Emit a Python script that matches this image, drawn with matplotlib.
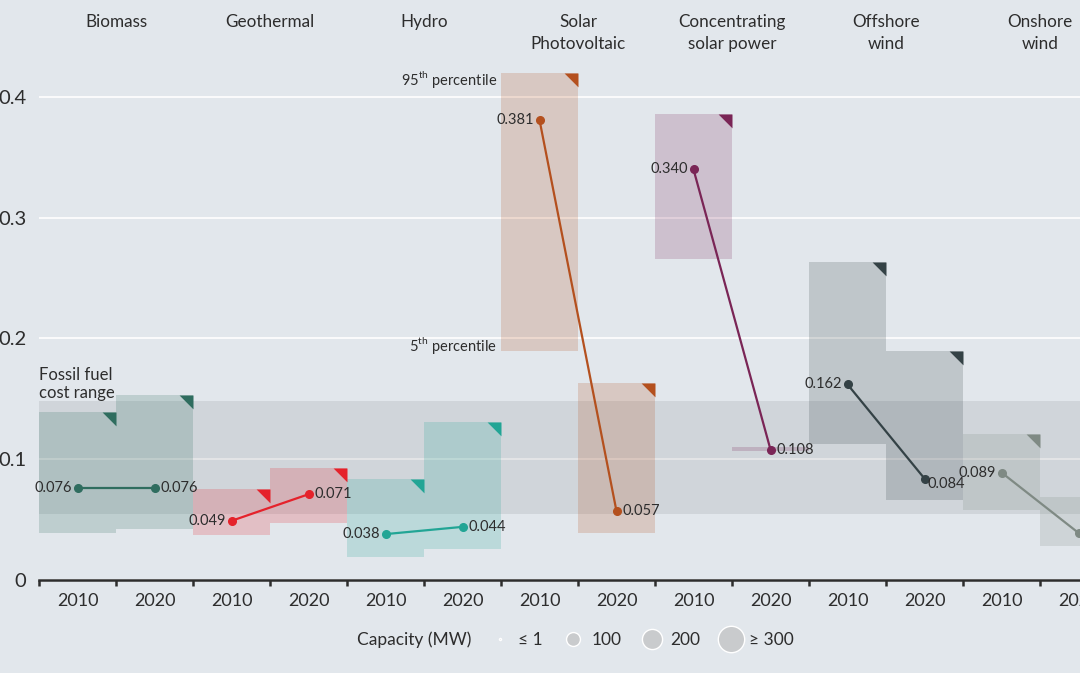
import numpy as np
import matplotlib.pyplot as plt
from matplotlib import transforms
from matplotlib.lines import Line2D

plt.rcParams['font.family'] = ['Lato', 'DejaVu Sans']
plt.rcParams['mathtext.fontset'] = 'custom'
plt.rcParams['mathtext.rm'] = 'Lato'

# LCOE (USD/kWh), weighted average and 5th / 95th percentile
technologies = ['Biomass', 'Geothermal', 'Hydro', 'Solar\nPhotovoltaic',
                'Concentrating\nsolar power', 'Offshore\nwind', 'Onshore\nwind']
years = ['2010', '2020']
lcoe_2010 = [0.076, 0.049, 0.038, 0.381, 0.340, 0.162, 0.089]
lcoe_2020 = [0.076, 0.071, 0.044, 0.057, 0.108, 0.084, 0.039]
p5_2010 = [0.039, 0.037, 0.019, 0.190, 0.266, 0.113, 0.058]
p95_2010 = [0.139, 0.075, 0.084, 0.420, 0.386, 0.263, 0.121]
p5_2020 = [0.042, 0.047, 0.026, 0.039, 0.107, 0.066, 0.028]
p95_2020 = [0.153, 0.093, 0.131, 0.163, 0.110, 0.190, 0.069]
fossil_low, fossil_high = 0.055, 0.148

capacity_labels = ['≤ 1', '100', '200', '≥ 300']
colors = ['#2f6d5f', '#e5222b', '#22a595', '#b4501e', '#7a2556', '#344246', '#7f8a84']

bg = '#e2e7ec'
txt = '#2d2d2d'

fig = plt.figure(figsize=(10.8, 6.73), dpi=100, facecolor=bg)
ax = fig.add_axes([39 / 1080, 93 / 673, 1078 / 1080, 555.5 / 673])
ax.set_facecolor(bg)
ax.set_xlim(0, 14)
ax.set_ylim(0, 0.46)

for s in ['top', 'right', 'left']:
    ax.spines[s].set_visible(False)
ax.spines['bottom'].set_linewidth(1.8)
ax.spines['bottom'].set_color(txt)

ax.set_yticks([0, 0.1, 0.2, 0.3, 0.4])
ax.set_yticklabels(['0', '0.1', '0.2', '0.3', '0.4'], fontsize=14.5, color=txt)
ax.tick_params(axis='y', length=0, pad=9)
ax.grid(axis='y', color='white', lw=1.2)
ax.set_axisbelow(True)

ax.set_xticks(np.arange(0, 15))
ax.set_xticklabels([])
ax.tick_params(axis='x', which='major', direction='out', length=4, width=1.8, color=txt)
ax.set_xticks(np.arange(14) + 0.5, minor=True)
ax.set_xticklabels(years * 7, minor=True, fontsize=13, color=txt)
ax.tick_params(axis='x', which='minor', length=0, pad=9)

# fossil fuel cost range
ax.axhspan(fossil_low, fossil_high, color='#8a9094', alpha=0.2, lw=0, zorder=1)
ax.text(0.0, fossil_high, 'Fossil fuel\ncost range', fontsize=12, color=txt,
        ha='left', va='bottom', linespacing=1.2)

tri = [(0, 0), (-1, 0), (0, -1)]
top_tf = transforms.blended_transform_factory(ax.transData, fig.transFigure)

for i, name in enumerate(technologies):
    c = colors[i]
    x0, x1 = 2 * i, 2 * i + 1
    for x, lo, hi in [(x0, p5_2010[i], p95_2010[i]), (x1, p5_2020[i], p95_2020[i])]:
        ax.fill_between([x, x + 1], lo, hi, color=c, alpha=0.2, lw=0, zorder=2)
        if hi - lo > 0.01:
            ax.plot(x + 1, hi, marker=tri, ms=20, color=c, mew=0, zorder=3)
    ax.plot([x0 + 0.5, x1 + 0.5], [lcoe_2010[i], lcoe_2020[i]], color=c, lw=1.6,
            marker='o', ms=5.5, zorder=4)
    ax.annotate(f'{lcoe_2010[i]:.3f}', (x0 + 0.5, lcoe_2010[i]), xytext=(-4, 0),
                textcoords='offset points', ha='right', va='center', fontsize=10.5,
                color=txt, zorder=5)
    if i == 5:
        ax.annotate(f'{lcoe_2020[i]:.3f}', (x1 + 0.5, lcoe_2020[i]), xytext=(2, -4),
                    textcoords='offset points', ha='left', va='center', fontsize=10.5,
                    color=txt, zorder=5)
    else:
        ax.annotate(f'{lcoe_2020[i]:.3f}', (x1 + 0.5, lcoe_2020[i]), xytext=(4.5, 0),
                    textcoords='offset points', ha='left', va='center', fontsize=10.5,
                    color=txt, zorder=5)
    ax.text(x1, 1 - 14 / 673, name, transform=top_tf, ha='center', va='top',
            fontsize=12.3, color=txt, linespacing=1.45)

# percentile notes on solar PV 2010
ax.annotate('95$^{\\mathrm{th}}$ percentile', (6, p95_2010[3]), xytext=(-3, -4.5),
            textcoords='offset points', ha='right', va='center', fontsize=10.5, color=txt)
ax.annotate('5$^{\\mathrm{th}}$ percentile', (6, p5_2010[3]), xytext=(-3, 3.5),
            textcoords='offset points', ha='right', va='center', fontsize=10.5, color=txt)

# capacity legend
fig.text(357 / 1080, 1 - 640 / 673, 'Capacity (MW)', fontsize=12.5, color=txt,
         ha='left', va='center')
sizes = [1.5, 10, 14.5, 19]
handles = [Line2D([], [], ls='none', marker='o', ms=s, mfc='#c9cbcd', mec='white', mew=1)
           for s in sizes]
fig.legend(handles, capacity_labels, loc='center left', ncol=4,
           bbox_to_anchor=(488 / 1080, 1 - 640 / 673), frameon=False, fontsize=12.5,
           handlelength=1.4, handletextpad=0.35, columnspacing=1.05, borderpad=0,
           borderaxespad=0, labelcolor=txt)

fig.savefig('out.png', dpi=100, facecolor=bg)
